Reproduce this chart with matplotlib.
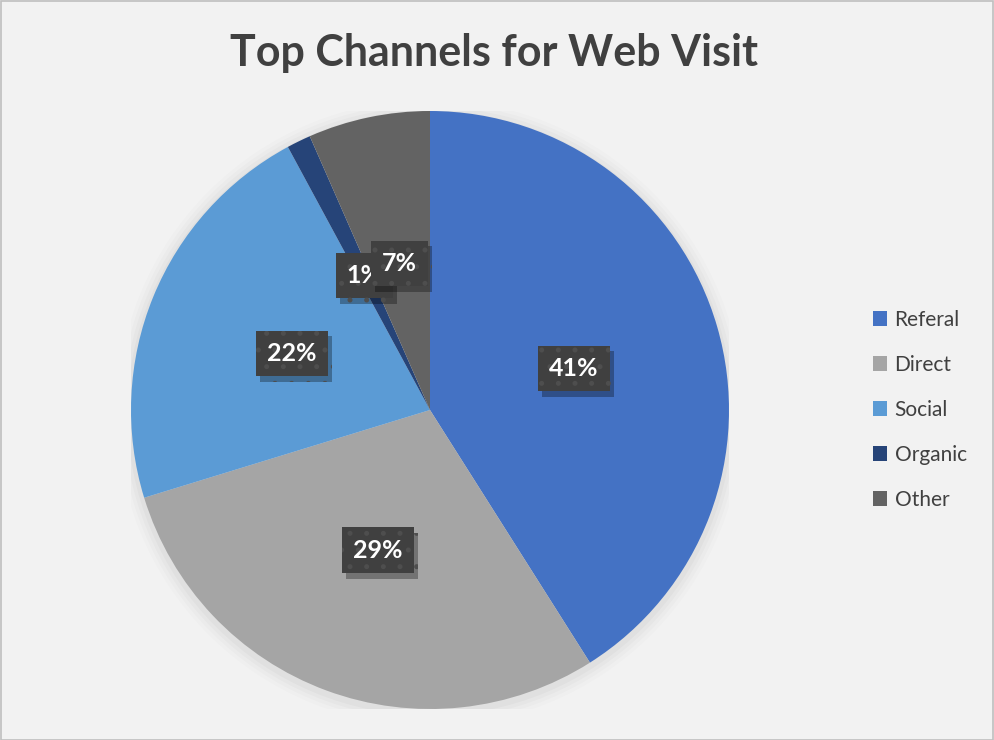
import matplotlib.pyplot as plt
import matplotlib.patheffects as pe
from matplotlib.patches import Rectangle
import numpy as np

plt.rcParams['hatch.linewidth'] = 1.2

channels = ['Referal', 'Direct', 'Social', 'Organic', 'Other']
shares = [41.1, 29.3, 21.9, 1.3, 6.6]
colors = ['#4472C4', '#A5A5A5', '#5B9BD5', '#264478', '#636363']
title = 'Top Channels for Web Visit'

W, H = 994, 740
fig = plt.figure(figsize=(W / 100, H / 100), dpi=100)
fig.patch.set_facecolor('#F2F2F2')
fig.patches.append(Rectangle((0.5 / W, 0.5 / H), 1 - 1.5 / W, 1 - 1.5 / H,
                             transform=fig.transFigure, fill=False,
                             ec='#BFBFBF', lw=1.2))

# pie centre and radius in pixels
cx, cy, r = 430, 410, 299
ax = fig.add_axes([(cx - r) / W, (H - cy - r) / H, 2 * r / W, 2 * r / H])
ax.set_facecolor('none')

# soft shadow around the pie
for k, a in enumerate([0.025, 0.02, 0.015, 0.01]):
    ax.add_patch(plt.Circle((0, -0.01), 1 + 0.012 * (k + 1), color='black',
                            alpha=a, lw=0, zorder=0))

wedges, _ = ax.pie(shares, colors=colors, startangle=90, counterclock=False,
                   radius=1, wedgeprops=dict(lw=0))
ax.set_xlim(-1, 1)
ax.set_ylim(-1, 1)
ax.axis('off')

total = sum(shares)
start = 0.0
for val in shares:
    mid = (start + val / 2) / total * 2 * np.pi
    start += val
    x, y = 0.5 * np.sin(mid), 0.5 * np.cos(mid)
    lbl = f'{round(val / total * 100):d}%'
    t = ax.text(x, y, lbl, ha='center', va='center', color='white',
                fontsize=18, fontweight='bold', family='Lato',
                bbox=dict(boxstyle='square,pad=0.45', fc='#404040',
                          ec='#4e4e4e', lw=0, hatch='.'))
    t.get_bbox_patch().set_path_effects(
        [pe.SimplePatchShadow(offset=(3, -4), shadow_rgbFace='black', alpha=0.3),
         pe.Normal()])

fig.text(0.5 - 0.003, 1 - 53 / H, title, ha='center', va='center',
         fontsize=31, fontweight='bold', family='Lato', color='#404040')

leg = fig.legend(wedges, channels, loc='center left',
                 bbox_to_anchor=(854 / W, 1 - 410 / H), frameon=False,
                 prop=dict(family='Lato', size=15), labelcolor='#404040',
                 handlelength=0.7, handleheight=0.7, handletextpad=0.35,
                 labelspacing=1.2)

fig.savefig('out.png', dpi=100, facecolor=fig.get_facecolor())
